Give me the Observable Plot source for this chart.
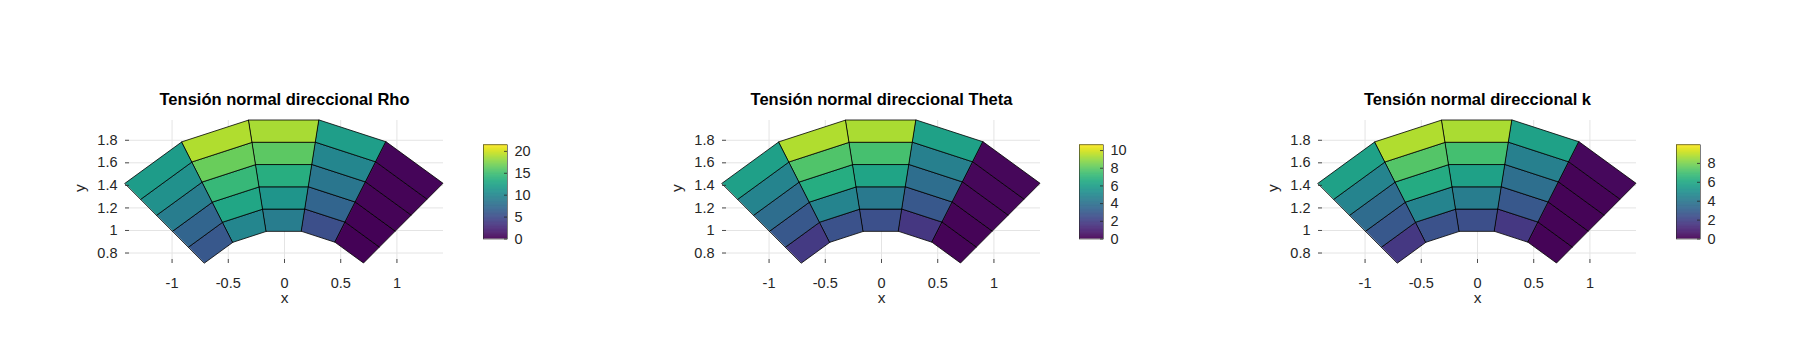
<!DOCTYPE html>
<html>
<head>
<meta charset="utf-8">
<script src="https://cdn.jsdelivr.net/npm/d3@7"></script>
<script src="https://cdn.jsdelivr.net/npm/@observablehq/plot@0.6"></script>
<style>
  html, body { margin: 0; padding: 0; background: #fff; }
  #root { position: relative; width: 1800px; height: 357px; background: #fff; overflow: hidden; }
  #root svg { position: absolute; top: 0; overflow: visible; }
</style>
</head>
<body>
<div id="root"></div>
<script>
// ---- mesh definition (annular sector) ----
const radii = [1.0, 1.2, 1.4, 1.6, 1.8, 2.0];
const anglesDeg = [135, 117, 99, 81, 63, 45];

// ---- cell values: one array per angular sector (left -> right), inner -> outer ----
const rhoVals = [
  [5.8, 6.9, 9.0, 10.8, 11.8],
  [9.9, 12.7, 14.4, 16.6, 18.9],
  [9.0, 11.2, 13.5, 16.1, 18.7],
  [5.2, 6.9, 8.4, 9.9, 12.0],
  [0.1, 0.1, 0.2, 0.2, 0.3]
];
const thetaVals = [
  [1.8, 2.9, 3.8, 4.8, 6.0],
  [2.7, 4.8, 6.6, 7.7, 9.4],
  [2.6, 4.3, 6.2, 7.5, 9.3],
  [1.7, 2.9, 3.8, 4.6, 6.1],
  [0.1, 0.1, 0.2, 0.2, 0.2]
];
const kVals = [
  [1.6, 2.7, 3.5, 4.5, 5.7],
  [2.5, 4.5, 6.1, 7.3, 8.8],
  [2.4, 4.2, 5.7, 7.0, 8.7],
  [1.6, 2.7, 3.6, 4.3, 5.7],
  [0.1, 0.1, 0.1, 0.1, 0.2]
];

const titles = ["Tensión normal direccional Rho", "Tensión normal direccional Theta", "Tensión normal direccional k"];
const colorMax = [21.5, 10.65, 9.97];
const cbTicksRho = [0, 5, 10, 15, 20];
const cbTicksTheta = [0, 2, 4, 6, 8, 10];
const cbTicksK = [0, 2, 4, 6, 8];
const xTicks = [-1, -0.5, 0, 0.5, 1];
const yTicks = [0.8, 1, 1.2, 1.4, 1.6, 1.8];

// ---- layout ----
const FONT = "'Liberation Sans', Arial, Helvetica, sans-serif";
const INK = "#262626";
const FRAME_W = 318, FRAME_TOP = 120, FRAME_BOTTOM = 263, H = 357;
const ML = 100, MR = 10;
const panelLeft = [125, 722, 1318];
const cbLeft = [482.5, 1079, 1676];
const CB_W = 24, CB_TOP = 144.3, CB_BOTTOM = 238.5;

const deg = Math.PI / 180;
const xDomain = [2 * Math.cos(135 * deg), 2 * Math.cos(45 * deg)];
const yDomain = [Math.sin(45 * deg), 2 * Math.sin(81 * deg)];
const fmt = d => String(d);

function buildCells(vals) {
  const pts = [];
  for (let s = 0; s < anglesDeg.length - 1; s++) {
    const a0 = anglesDeg[s] * deg, a1 = anglesDeg[s + 1] * deg;
    for (let l = 0; l < radii.length - 1; l++) {
      const r0 = radii[l], r1 = radii[l + 1];
      const id = s * 10 + l, v = vals[s][l];
      pts.push({id, v, x1: r0 * Math.cos(a0), y1: r0 * Math.sin(a0), x2: r1 * Math.cos(a0), y2: r1 * Math.sin(a0)});
      pts.push({id, v, x1: r0 * Math.cos(a1), y1: r0 * Math.sin(a1), x2: r1 * Math.cos(a1), y2: r1 * Math.sin(a1)});
    }
  }
  return pts;
}

function mainPlot(vals, cmax, title) {
  const frameH = FRAME_BOTTOM - FRAME_TOP;
  return Plot.plot({
    width: ML + FRAME_W + MR,
    height: H,
    marginLeft: ML, marginRight: MR, marginTop: FRAME_TOP, marginBottom: H - FRAME_BOTTOM,
    x: {domain: xDomain},
    y: {domain: yDomain},
    color: {type: "linear", scheme: "viridis", domain: [0, cmax]},
    style: {fontFamily: FONT, fontSize: "14.5px", color: INK, background: "transparent"},
    marks: [
      Plot.gridX(xTicks, {stroke: "#e4e4e4", strokeOpacity: 1}),
      Plot.gridY(yTicks, {stroke: "#e4e4e4", strokeOpacity: 1}),
      Plot.area(buildCells(vals), {x1: "x1", y1: "y1", x2: "x2", y2: "y2", z: "id", fill: "v", stroke: "#000", strokeWidth: 0.8, strokeLinejoin: "round"}),
      Plot.axisX(xTicks, {tickSize: 0, tickPadding: 14, tickFormat: fmt, line: true, color: INK, label: null, strokeWidth: 0.8}),
      Plot.axisY(yTicks, {tickSize: 0, tickPadding: 8, tickFormat: fmt, line: true, color: INK, label: null, strokeWidth: 0.8}),
      Plot.tickX(xTicks, {x: d => d, insetTop: frameH - 4, stroke: INK, strokeWidth: 0.8}),
      Plot.tickY(yTicks, {y: d => d, insetRight: FRAME_W - 4, stroke: INK, strokeWidth: 0.8}),
      Plot.text([title], {text: d => d, frameAnchor: "top", dy: -21, lineAnchor: "middle", fontWeight: "bold", fontSize: 16.5, fill: "#000"}),
      Plot.text(["x"], {text: d => d, frameAnchor: "bottom", dy: 35, lineAnchor: "middle", fontSize: 15.5, fill: INK}),
      Plot.text(["y"], {text: d => d, frameAnchor: "left", dx: -45, rotate: -90, fontSize: 15.5, fill: INK})
    ]
  });
}

function colorBar(cmax, ticks) {
  const N = 200;
  const slices = d3.range(N).map(i => ({a: i * cmax / N, b: Math.min(cmax, (i + 1.6) * cmax / N), v: (i + 0.5) * cmax / N}));
  return Plot.plot({
    width: CB_W + 40,
    height: H,
    marginLeft: 0, marginRight: 40, marginTop: CB_TOP, marginBottom: H - CB_BOTTOM,
    y: {domain: [0, cmax]},
    color: {type: "linear", scheme: "viridis", domain: [0, cmax]},
    style: {fontFamily: FONT, fontSize: "14.5px", color: INK, background: "transparent"},
    marks: [
      Plot.rectY(slices, {y1: "a", y2: "b", fill: "v"}),
      Plot.frame({stroke: INK, strokeWidth: 0.6}),
      Plot.tickY(ticks, {y: d => d, insetLeft: CB_W - 3, stroke: INK, strokeWidth: 0.8}),
      Plot.axisY(ticks, {anchor: "right", tickSize: 0, tickPadding: 7, tickFormat: fmt, color: INK, label: null})
    ]
  });
}

const root = document.getElementById("root");
const panels = [
  [rhoVals, cbTicksRho],
  [thetaVals, cbTicksTheta],
  [kVals, cbTicksK]
];
panels.forEach(([vals, ticks], i) => {
  const m = mainPlot(vals, colorMax[i], titles[i]);
  m.style.left = (panelLeft[i] - ML) + "px";
  root.appendChild(m);
  const c = colorBar(colorMax[i], ticks);
  c.style.left = cbLeft[i] + "px";
  root.appendChild(c);
});
</script>
</body>
</html>
